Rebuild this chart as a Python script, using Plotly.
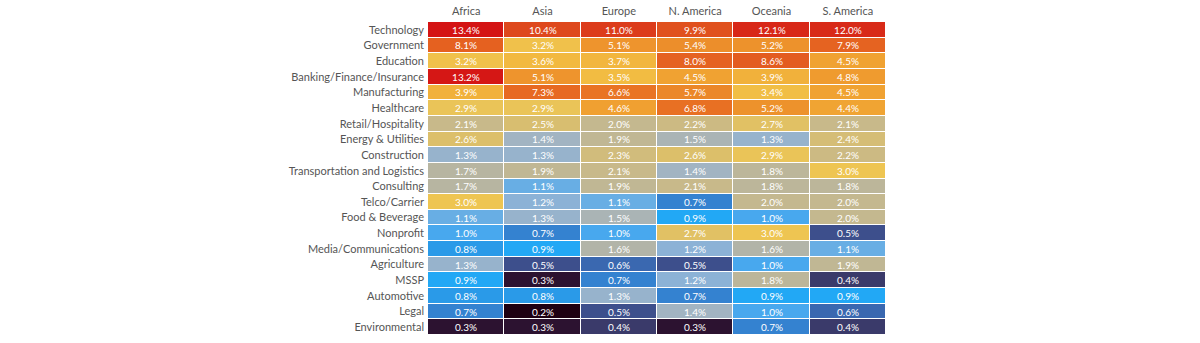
import numpy as np
import plotly.graph_objects as go

industries = ["Technology", "Government", "Education", "Banking/Finance/Insurance", "Manufacturing",
              "Healthcare", "Retail/Hospitality", "Energy & Utilities", "Construction",
              "Transportation and Logistics", "Consulting", "Telco/Carrier", "Food & Beverage",
              "Nonprofit", "Media/Communications", "Agriculture", "MSSP", "Automotive", "Legal",
              "Environmental"]
regions = ["Africa", "Asia", "Europe", "N. America", "Oceania", "S. America"]

africa = [13.4, 8.1, 3.2, 13.2, 3.9, 2.9, 2.1, 2.6, 1.3, 1.7, 1.7, 3.0, 1.1, 1.0, 0.8, 1.3, 0.9, 0.8, 0.7, 0.3]
asia = [10.4, 3.2, 3.6, 5.1, 7.3, 2.9, 2.5, 1.4, 1.3, 1.9, 1.1, 1.2, 1.3, 0.7, 0.9, 0.5, 0.3, 0.8, 0.2, 0.3]
europe = [11.0, 5.1, 3.7, 3.5, 6.6, 4.6, 2.0, 1.9, 2.3, 2.1, 1.9, 1.1, 1.5, 1.0, 1.6, 0.6, 0.7, 1.3, 0.5, 0.4]
n_america = [9.9, 5.4, 8.0, 4.5, 5.7, 6.8, 2.2, 1.5, 2.6, 1.4, 2.1, 0.7, 0.9, 2.7, 1.2, 0.5, 1.2, 0.7, 1.4, 0.3]
oceania = [12.1, 5.2, 8.6, 3.9, 3.4, 5.2, 2.7, 1.3, 2.9, 1.8, 1.8, 2.0, 1.0, 3.0, 1.6, 1.0, 1.8, 0.9, 1.0, 0.7]
s_america = [12.0, 7.9, 4.5, 4.8, 4.5, 4.4, 2.1, 2.4, 2.2, 3.0, 1.8, 2.0, 2.0, 0.5, 1.1, 1.9, 0.4, 0.9, 0.6, 0.4]

columns = [africa, asia, europe, n_america, oceania, s_america]
vals = np.array(columns).T  # rows = industries
zlog = np.log(vals)

vmin, vmax = 0.2, 13.4
stops = [
    (0.2, "#1e0012"), (0.3, "#2c1230"), (0.4, "#3a3a6a"), (0.5, "#3d4f8c"),
    (0.6, "#3a68b0"), (0.7, "#3482d0"), (0.8, "#2a9ae8"), (0.9, "#22a8f5"),
    (1.0, "#48a8ee"), (1.1, "#68aee4"), (1.2, "#8cb2d6"), (1.4, "#a2b4c2"),
    (1.6, "#b2b4a8"), (1.8, "#bcb69a"), (2.1, "#c8b98a"), (2.6, "#dcbf6a"),
    (3.0, "#eec552"), (3.5, "#f2bc42"), (4.5, "#f0a232"), (5.5, "#ec8c2a"),
    (7.0, "#e86c22"), (10.0, "#e0501e"), (12.0, "#d82a18"), (13.4, "#d41414"),
]
lo, hi = np.log(vmin), np.log(vmax)
colorscale = [[(np.log(v) - lo) / (hi - lo), c] for v, c in stops]
colorscale[-1][0] = 1.0
colorscale[0][0] = 0.0

text = [[f"{v:.1f}%" for v in row] for row in vals]

fig = go.Figure(go.Heatmap(
    z=zlog, x=regions, y=industries, text=text, texttemplate="%{text}",
    textfont=dict(color="white", size=10, family="Lato"),
    colorscale=colorscale, zmin=lo, zmax=hi, showscale=False,
    xgap=1, ygap=1, hoverinfo="text",
))
fig.update_layout(
    width=1200, height=343,
    margin=dict(l=428, r=314, t=22, b=8),
    plot_bgcolor="white", paper_bgcolor="white",
    font=dict(family="Lato", size=11, color="#555555"),
)
fig.update_xaxes(side="top", showgrid=False, zeroline=False, ticks="", ticklabelstandoff=4,
                 automargin=False, tickfont=dict(size=11, color="#555"))
fig.update_yaxes(autorange="reversed", showgrid=False, zeroline=False, ticks="", ticklabelstandoff=3,
                 automargin=False, tickfont=dict(size=11, color="#555"))
fig.write_html("out.html")
